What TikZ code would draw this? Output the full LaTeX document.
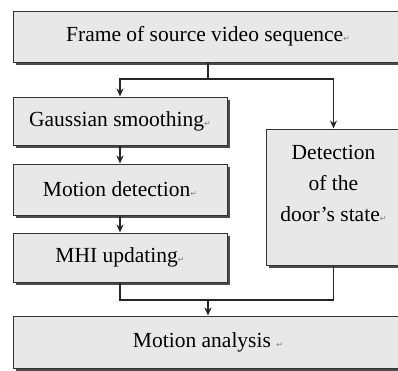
\documentclass[tikz,border=0pt]{standalone}
\usepackage{fontspec}
\setmainfont{Liberation Serif}
\newfontfamily\markfont{DejaVu Sans}
\usetikzlibrary{arrows.meta,shadows}
\newcommand{\pmark}{{\markfont\fontsize{8}{8}\selectfont\color{gray}↵}}
\tikzset{
	box/.style={draw=black!80,line width=1pt,fill=black!9,inner sep=0pt,
		font=\fontsize{21.5}{31}\selectfont,align=center,
		drop shadow={shadow xshift=2.5pt,shadow yshift=-2.5pt,fill=black!70,opacity=1}},
	flow/.style={line width=1.2pt,black!85}
}
\begin{document}
\begin{tikzpicture}[x=1pt,y=-1pt,>={Stealth[length=8pt,width=7pt]}]
	\useasboundingbox[fill=white] (0,0) rectangle (398,370);
	\clip (0,0) rectangle (398,370);
	% Boxes
	\node[box,minimum width=390pt,minimum height=51pt] (frame) at (208,36.5) {Frame of source video sequence\pmark};
	\node[box,minimum width=214pt,minimum height=48pt] (gauss) at (120,121) {Gaussian smoothing\pmark};
	\node[box,minimum width=214pt,minimum height=51pt] (motion) at (120,189.5) {Motion detection\pmark};
	\node[box,minimum width=214pt,minimum height=49pt] (mhi) at (120,257.5) {MHI updating\pmark};
	\node[box,minimum width=135pt,minimum height=136pt,text depth=27pt] (door) at (333.5,197) {Detection\\of the\\door’s state\pmark};
	\node[box,minimum width=390pt,minimum height=52pt] (analysis) at (208,342) {Motion analysis \pmark};
	% Branch points
	\coordinate (split) at (208,79);
	\coordinate (join) at (208,300);
	% Connectors
	\draw[flow] (frame.south -| split) -- (split);
	\draw[flow,->] (split) -| (gauss.north);
	\draw[flow,->] (split) -| (door.north);
	\draw[flow,->] (gauss) -- (motion);
	\draw[flow,->] (motion) -- (mhi);
	\draw[flow] (mhi.south) |- (join) -| (door.south);
	\draw[flow,->] (join) -- (analysis.north);
\end{tikzpicture}
\end{document}
